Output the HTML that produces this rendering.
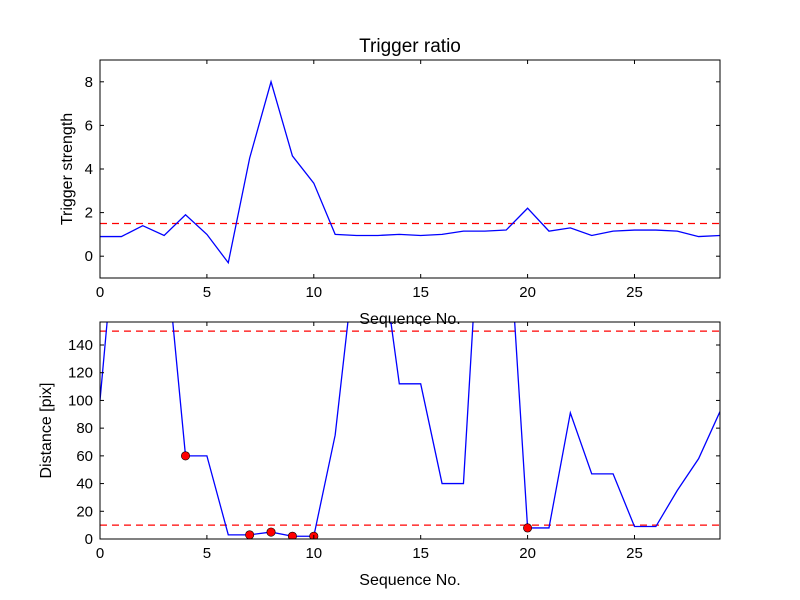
<!DOCTYPE html>
<html><head><meta charset="utf-8"><style>body{margin:0;background:#fff}svg{display:block}text{font-family:"Liberation Sans","DejaVu Sans",sans-serif}</style></head>
<body>
<svg id="c" width="800" height="600"></svg>
<script>
const seq = Array.from({length:30},(_,i)=>i);
const strength = [0.9,0.9,1.4,0.95,1.9,1.0,-0.3,4.5,8.0,4.6,3.35,1.0,0.95,0.95,1.0,0.95,1.0,1.15,1.15,1.2,2.2,1.15,1.3,0.95,1.15,1.2,1.2,1.15,0.9,0.95];
const strengthThreshold = 1.5;
const distance = [100,270,250,222,60,60,3,3,5,2,2,75,212,225,112,112,40,40,300,254,8,8,91,47,47,9,9,35,58,92];
const distThresholds = [150,10];
const markedIdx = [4,7,8,9,10,20];
const xTicks = [0,5,10,15,20,25];
const yTicksTop = [0,2,4,6,8];
const yTicksBot = [0,20,40,60,80,100,120,140];

const svg=document.getElementById('c');const NS='http://www.w3.org/2000/svg';
function el(t,a,p){const e=document.createElementNS(NS,t);for(const k in a)e.setAttribute(k,a[k]);(p||svg).appendChild(e);return e;}
function panel(name,top,bottom,ymin,ymax,yTicks,ys,ths,marks,ylabel,title,cid){
  const L=100,R=720;
  const sx=v=>L+(v-0)/(29-0)*(R-L);
  const sy=v=>bottom-(v-ymin)/(ymax-ymin)*(bottom-top);
  const g=el('g',{});
  const cp=el('clipPath',{id:cid},g);el('rect',{x:L,y:top,width:R-L,height:bottom-top},cp);
  const inner=el('g',{'clip-path':'url(#'+cid+')'},g);
  ths.forEach(t=>{const l=el('line',{x1:L,x2:R,y1:sy(t),y2:sy(t),stroke:'#ff0000','stroke-width':1.3,'stroke-dasharray':'7,5'},inner);});
  const pl=el('polyline',{points:seq.map((x,i)=>sx(x)+','+sy(ys[i])).join(' '),fill:'none',stroke:'#0000ff','stroke-width':1.3},inner);
  
  marks.forEach(i=>{const c=el('circle',{cx:sx(seq[i]),cy:sy(ys[i]),r:4.2,fill:'#ff0000',stroke:'#000','stroke-width':0.6},inner);});
  el('rect',{x:L,y:top,width:R-L,height:bottom-top,fill:'none',stroke:'#000','stroke-width':1},g);
  xTicks.forEach(t=>{const x=sx(t);el('line',{x1:x,x2:x,y1:bottom,y2:bottom-4,stroke:'#000'},g);el('line',{x1:x,x2:x,y1:top,y2:top+4,stroke:'#000'},g);
    const tx=el('text',{x:x,y:bottom+19,'text-anchor':'middle','font-size':15},g);tx.textContent=t;});
  yTicks.forEach(t=>{const y=sy(t);el('line',{x1:L,x2:L+4,y1:y,y2:y,stroke:'#000'},g);el('line',{x1:R,x2:R-4,y1:y,y2:y,stroke:'#000'},g);
    const tx=el('text',{x:L-7,y:y+5,'text-anchor':'end','font-size':15},g);tx.textContent=t;});
  const xl=el('text',{x:(L+R)/2,y:bottom+46,'text-anchor':'middle','font-size':16},g);xl.textContent='Sequence No.';
  const yx=ylabel[1];const yl=el('text',{x:yx,y:(top+bottom)/2,'text-anchor':'middle','font-size':16,transform:'rotate(-90 '+yx+' '+(top+bottom)/2+')'},g);yl.textContent=ylabel[0];
  if(title){const tt=el('text',{x:(L+R)/2,y:top-8,'text-anchor':'middle','font-size':19},g);tt.textContent=title;}
}
panel('trigger-strength',60,278,-1,9,yTicksTop,strength,[strengthThreshold],[],['Trigger strength',72],'Trigger ratio','c1');
panel('distance',322,539,0,156.6,yTicksBot,distance,distThresholds,markedIdx,['Distance [pix]',51],null,'c2');
</script>
</body></html>
